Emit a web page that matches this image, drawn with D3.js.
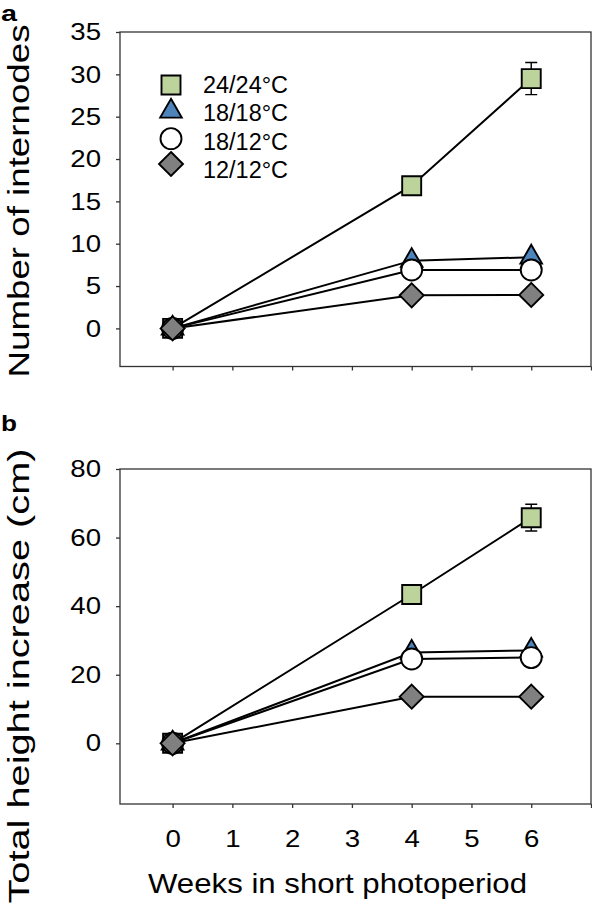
<!DOCTYPE html>
<html>
<head>
<meta charset="utf-8">
<script src="https://cdn.jsdelivr.net/npm/d3@7"></script>
<style>
  html, body { margin: 0; padding: 0; background: #fff; }
  text { font-family: "Liberation Sans", Arial, Helvetica, sans-serif; fill: #000; }
</style>
</head>
<body>
<svg id="chart" width="592" height="913"></svg>
<script>
// ---- data ----
const weeks = [0, 4, 6];
const seriesNames = ["24/24°C", "18/18°C", "18/12°C", "12/12°C"];
const internodes24_24 = [0, 16.85, 29.5];
const internodes18_18 = [0, 8.0, 8.4];
const internodes18_12 = [0, 6.9, 6.9];
const internodes12_12 = [0, 3.9, 3.95];
const internodesErr24_24 = [0, 0.3, 1.9];
const height24_24 = [0, 43.4, 65.8];
const height18_18 = [0, 26.5, 27.1];
const height18_12 = [0, 24.6, 25.0];
const height12_12 = [0, 13.6, 13.6];
const heightErr24_24 = [0, 0.8, 3.9];
const xTicks = [0, 1, 2, 3, 4, 5, 6, 7];
const xTickLabels = ["0", "1", "2", "3", "4", "5", "6", ""];
const yTicksA = [0, 5, 10, 15, 20, 25, 30, 35];
const yTicksB = [0, 20, 40, 60, 80];

const markerShapes = ["square", "triangle", "circle", "diamond"];
const markerFills = ["#bdd39c", "#4e84bc", "#ffffff", "#808080"];

const svg = d3.select("#chart");

const x = d3.scaleLinear().domain([-0.88, 7.0]).range([120, 591]);

// widen text horizontally (the reference font is broader than Arial)
function stretch(sel, factor) {
  sel.each(function () {
    const len = this.getComputedTextLength();
    if (len > 0) d3.select(this).attr("textLength", len * factor).attr("lengthAdjust", "spacingAndGlyphs");
  });
}

function markerPath(shape) {
  if (shape === "square") return "M-9.5,-9.5H9.5V9.5H-9.5Z";
  if (shape === "triangle") return "M0,-12.5L10.8,6.25L-10.8,6.25Z";
  if (shape === "diamond") return "M0,-12L12,0L0,12L-12,0Z";
  return "";
}

function drawMarker(g, shape, fill, cx, cy) {
  if (shape === "circle") {
    g.append("circle").attr("cx", cx).attr("cy", cy).attr("r", 10.5)
      .attr("fill", fill).attr("stroke", "#000").attr("stroke-width", 1.9);
  } else {
    g.append("path").attr("d", markerPath(shape))
      .attr("transform", `translate(${cx},${cy})`)
      .attr("fill", fill).attr("stroke", "#000").attr("stroke-width", 1.9)
      .attr("stroke-linejoin", "miter");
  }
}

function panel(opts) {
  const { y, yTicks, series, err, showXLabels, yTitle, label, labelY } = opts;
  const g = svg.append("g");
  const [y0, y1] = y.range();
  // frame
  g.append("rect").attr("x", x.range()[0]).attr("y", y1)
    .attr("width", x.range()[1] - x.range()[0]).attr("height", y0 - y1)
    .attr("fill", "none").attr("stroke", "#333").attr("stroke-width", 1.3);

  // y axis
  const ya = d3.axisLeft(y).tickValues(yTicks).tickSize(4).tickPadding(15);
  const yg = g.append("g").attr("transform", `translate(${x.range()[0]},0)`).call(ya);
  yg.select(".domain").remove();
  yg.selectAll(".tick line").attr("stroke", "#333").attr("stroke-width", 1.3);
  yg.selectAll(".tick text").attr("font-size", 24).attr("font-family", "Liberation Sans, Arial, sans-serif").attr("fill", "#000");
  stretch(yg.selectAll(".tick text"), 1.15);

  // x axis
  const xa = d3.axisBottom(x).tickValues(xTicks).tickSize(4).tickPadding(22)
    .tickFormat((d, i) => showXLabels ? xTickLabels[i] : "");
  const xg = g.append("g").attr("transform", `translate(0,${y0})`).call(xa);
  xg.select(".domain").remove();
  xg.selectAll(".tick line").attr("stroke", "#333").attr("stroke-width", 1.3);
  xg.selectAll(".tick text").attr("font-size", 24).attr("font-family", "Liberation Sans, Arial, sans-serif").attr("fill", "#000");
  stretch(xg.selectAll(".tick text"), 1.15);

  // y title
  g.append("text")
    .attr("transform", `translate(18,${opts.yTitleCenter}) rotate(-90)`)
    .attr("text-anchor", "middle").attr("dominant-baseline", "central")
    .attr("font-size", 30).attr("textLength", opts.yTitleLength)
    .attr("lengthAdjust", "spacingAndGlyphs").text(yTitle);

  // panel label
  g.append("text").attr("x", 1).attr("y", labelY)
    .attr("font-size", 22).attr("font-weight", "bold")
    .attr("textLength", 16).attr("lengthAdjust", "spacingAndGlyphs").text(label);

  // lines
  const line = d3.line().x((d, i) => x(weeks[i])).y(d => y(d));
  series.forEach(s => {
    g.append("path").datum(s).attr("d", line)
      .attr("fill", "none").attr("stroke", "#000").attr("stroke-width", 2);
  });
  // error bars (24/24 series)
  weeks.forEach((w, i) => {
    if (err[i] <= 0.5) return;
    const v = series[0][i];
    const cx = x(w);
    g.append("path")
      .attr("d", `M${cx},${y(v + err[i])}V${y(v - err[i])}M${cx - 6},${y(v + err[i])}H${cx + 6}M${cx - 6},${y(v - err[i])}H${cx + 6}`)
      .attr("stroke", "#000").attr("stroke-width", 1.4).attr("fill", "none");
  });
  // markers
  series.forEach((s, k) => {
    s.forEach((v, i) => {
      drawMarker(g, markerShapes[k], markerFills[k], x(weeks[i]), y(v));
    });
  });
  return g;
}

const yA = d3.scaleLinear().domain([-4.5, 35]).range([366.5, 32]);
const yB = d3.scaleLinear().domain([-17.7, 80]).range([804, 469]);

panel({
  y: yA, yTicks: yTicksA,
  series: [internodes24_24, internodes18_18, internodes18_12, internodes12_12],
  err: internodesErr24_24, showXLabels: false,
  yTitle: "Number of internodes", yTitleLength: 353, yTitleCenter: 201,
  label: "a", labelY: 21
});
panel({
  y: yB, yTicks: yTicksB,
  series: [height24_24, height18_18, height18_12, height12_12],
  err: heightErr24_24, showXLabels: true,
  yTitle: "Total height increase (cm)", yTitleLength: 455, yTitleCenter: 676,
  label: "b", labelY: 431
});

// legend
const legend = svg.append("g");
const legendY = d3.scaleLinear().domain([0, 3]).range([85, 170]);
const legendMarkerOffset = [0, -2, -3, -6];
seriesNames.forEach((name, k) => {
  drawMarker(legend, markerShapes[k], markerFills[k], 171, legendY(k) + legendMarkerOffset[k]);
  legend.append("text").attr("x", 203).attr("y", legendY(k))
    .attr("dominant-baseline", "central").attr("font-size", 23)
    .attr("textLength", 85).attr("lengthAdjust", "spacingAndGlyphs").text(name);
});

// x title
svg.append("text").attr("x", 337.5).attr("y", 893)
  .attr("text-anchor", "middle").attr("font-size", 28)
  .attr("textLength", 379).attr("lengthAdjust", "spacingAndGlyphs")
  .text("Weeks in short photoperiod");
</script>
</body>
</html>
